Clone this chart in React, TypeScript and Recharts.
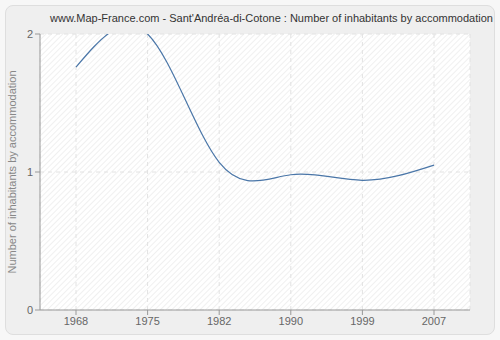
import { LineChart, Line, XAxis, YAxis, CartesianGrid } from 'recharts';

const years = ['1968', '1975', '1982', '1990', '1999', '2007'];
const perHousing = [1.76, 2.0, 1.07, 0.98, 0.94, 1.05];
const yTicks = [0, 1, 2];

const data = years.map((year, i) => ({ year, value: perHousing[i] }));

const font = '"Liberation Sans", Arial, sans-serif';

export default function App() {
  return (
    <div style={{ position: 'absolute', left: 0, top: 0, width: 500, height: 340, background: '#f7f7f7' }}>
      <style>{'body{margin:0}'}</style>
      <div
        style={{
          position: 'absolute', left: 5, top: 5, width: 488, height: 328,
          background: '#efefef', border: '1px solid #dedede', borderRadius: 8,
        }}
      />
      <div
        style={{
          position: 'absolute', left: 50, top: 12, width: 436, textAlign: 'center',
          fontFamily: font, fontSize: 11, color: '#333', whiteSpace: 'nowrap',
        }}
      >
        www.Map-France.com - Sant'Andréa-di-Cotone : Number of inhabitants by accommodation
      </div>
      <div style={{ position: 'absolute', left: 0, top: 0 }}>
        <LineChart width={500} height={340} data={data} margin={{ top: 34, right: 30, bottom: 0, left: 0 }}>
          <defs>
            <pattern id="hatch" width="4" height="4" patternUnits="userSpaceOnUse" patternTransform="rotate(45)">
              <rect width="4" height="4" fill="#ffffff" />
              <line x1="0" y1="0" x2="0" y2="4" stroke="#ececec" strokeWidth="1.5" />
            </pattern>
          </defs>
          <CartesianGrid fill="url(#hatch)" stroke="#e2e2e2" strokeDasharray="4 4" />
          <XAxis
            dataKey="year"
            padding={{ left: 36, right: 36 }}
            stroke="#999"
            tick={{ fill: '#666', fontSize: 11, fontFamily: font }}
            tickSize={5}
            height={30}
          />
          <YAxis
            domain={[0, 2]}
            ticks={yTicks}
            allowDataOverflow
            width={40}
            stroke="#999"
            tick={{ fill: '#666', fontSize: 11, fontFamily: font }}
            tickSize={5}
            label={{
              content: ({ viewBox }: any) => {
                const cy = viewBox.y + viewBox.height / 2;
                return (
                  <text
                    x={16}
                    y={cy}
                    transform={`rotate(-90 16 ${cy})`}
                    textAnchor="middle"
                    fill="#888"
                    fontSize={11}
                    fontFamily={font}
                  >
                    Number of inhabitants by accommodation
                  </text>
                );
              },
            }}
          />
          <Line
            type="natural"
            dataKey="value"
            stroke="#4a76a8"
            strokeWidth={1.2}
            dot={false}
            isAnimationActive={false}
          />
        </LineChart>
      </div>
    </div>
  );
}
